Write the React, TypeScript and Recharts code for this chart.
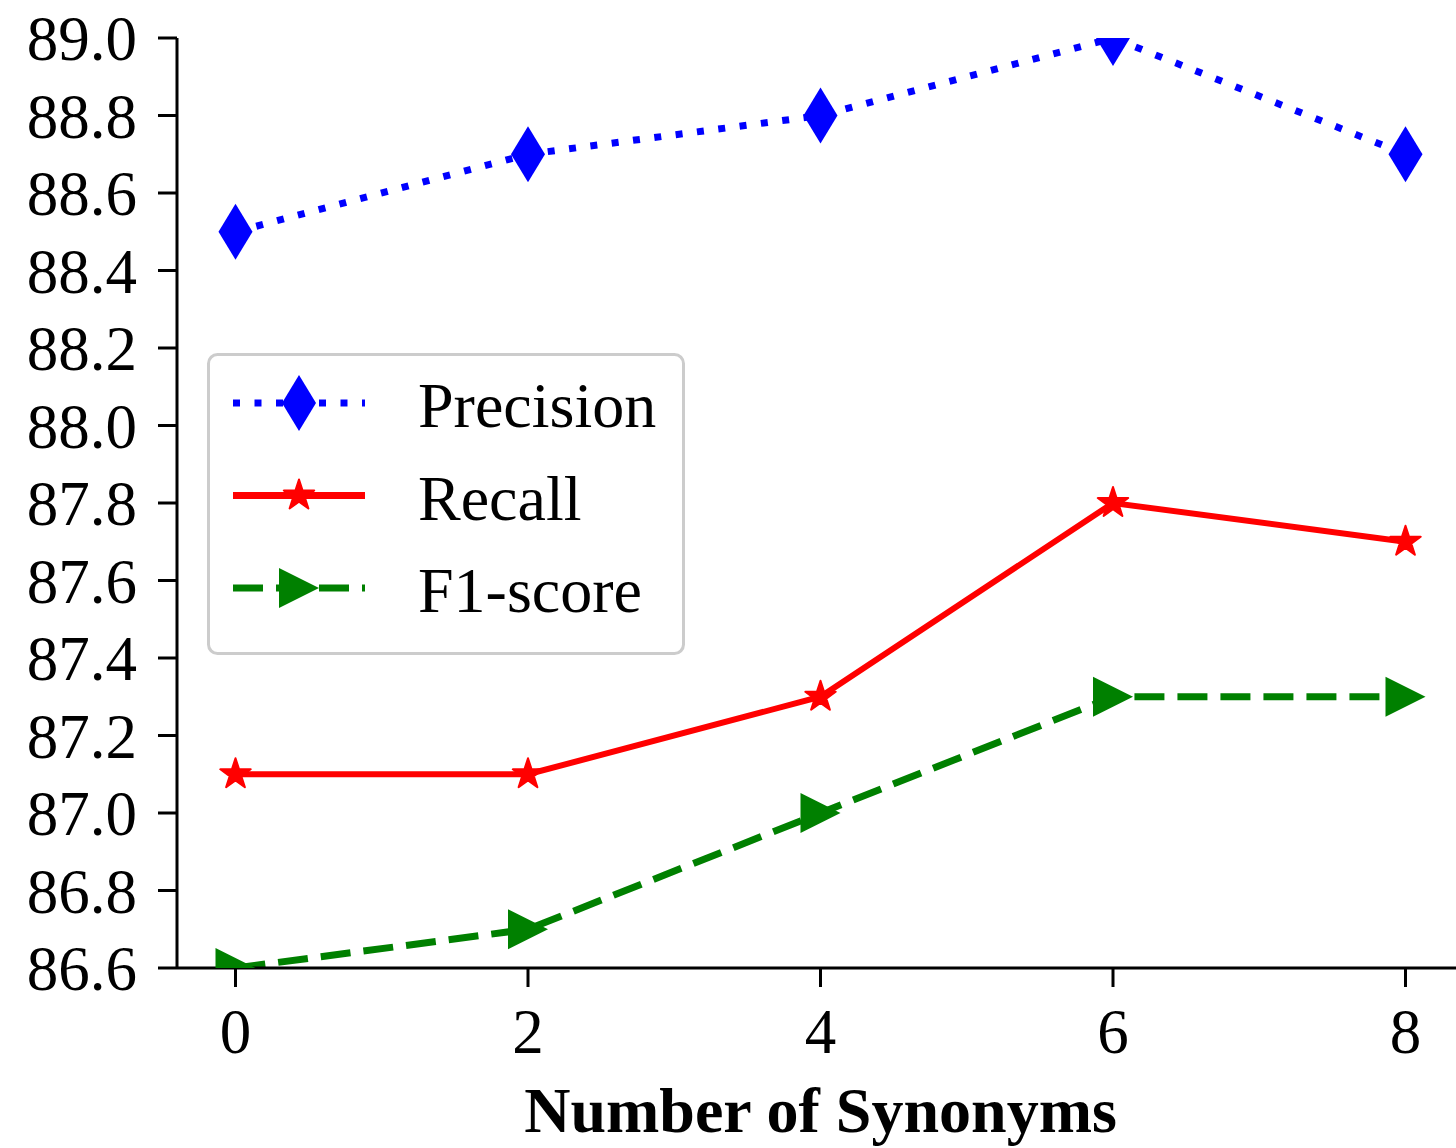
import React from 'react';
import { LineChart, Line, XAxis, YAxis, Legend, Label } from 'recharts';

// values
const synonyms = [0, 2, 4, 6, 8];
const precision = [88.5, 88.7, 88.8, 89.0, 88.7];
const recall = [87.1, 87.1, 87.3, 87.8, 87.7];
const f1Score = [86.6, 86.7, 87.0, 87.3, 87.3];

const xTicks = [0, 2, 4, 6, 8];
const yTicks = [86.6, 86.8, 87.0, 87.2, 87.4, 87.6, 87.8, 88.0, 88.2, 88.4, 88.6, 88.8, 89.0];
const seriesNames = ['Precision', 'Recall', 'F1-score'];

const data = synonyms.map((n, i) => ({
  n,
  precision: precision[i],
  recall: recall[i],
  f1: f1Score[i],
}));

const FONT = '"Liberation Serif", "Times New Roman", Times, serif';
const BLUE = '#0000ff';
const RED = '#ff0000';
const GREEN = '#008000';

interface MarkerProps {
  cx: number;
  cy: number;
  fill: string;
}

function Diamond({ cx, cy, fill }: MarkerProps) {
  return <path d={`M${cx},${cy - 28} L${cx + 17},${cy} L${cx},${cy + 28} L${cx - 17},${cy} Z`} fill={fill} />;
}

function Star({ cx, cy, fill }: MarkerProps) {
  const pts: string[] = [];
  for (let k = 0; k < 10; k++) {
    const r = k % 2 === 0 ? 16 : 6.1;
    const a = -Math.PI / 2 + (k * Math.PI) / 5;
    pts.push(`${cx + r * Math.cos(a)},${cy + r * Math.sin(a)}`);
  }
  return <polygon points={pts.join(' ')} fill={fill} stroke={fill} strokeWidth={2} strokeLinejoin="round" />;
}

function TriangleRight({ cx, cy, fill }: MarkerProps) {
  return <path d={`M${cx + 20},${cy} L${cx - 20},${cy - 20} L${cx - 20},${cy + 20} Z`} fill={fill} />;
}

const legendItems = [
  { name: seriesNames[0], color: BLUE, dash: '7 14.5', Marker: Diamond },
  { name: seriesNames[1], color: RED, dash: undefined, Marker: Star },
  { name: seriesNames[2], color: GREEN, dash: '30 13', Marker: TriangleRight },
];

function LegendBox() {
  return (
    <svg width={478} height={302} style={{ display: 'block' }}>
      <rect x={1.5} y={1.5} width={475} height={299} rx={9} fill="#ffffff" fillOpacity={0.8} stroke="#cccccc" strokeWidth={3} />
      {legendItems.map((it, i) => {
        const y = 50 + i * 92.5;
        const M = it.Marker;
        return (
          <g key={it.name}>
            <line x1={26} y1={y} x2={158} y2={y} stroke={it.color} strokeWidth={7} strokeDasharray={it.dash} />
            <M cx={92} cy={y} fill={it.color} />
            <text x={211} y={y + 24} fontSize={64} fontFamily={FONT} fill="#000">
              {it.name}
            </text>
          </g>
        );
      })}
    </svg>
  );
}

const axisStroke = { stroke: '#000', strokeWidth: 3 };
const tickStyle = { fill: '#000', fontSize: 63, fontFamily: FONT };

export default function App() {
  return (
    <div style={{ position: 'absolute', left: 0, top: 0, width: 1456, height: 1148, overflow: 'hidden', background: '#fff' }}>
      <LineChart width={1464} height={1148} data={data} margin={{ top: 38, right: 0, bottom: 0, left: 0 }}>
        <XAxis
          dataKey="n"
          type="number"
          domain={[-0.4, 8.4]}
          ticks={xTicks}
          allowDataOverflow
          height={180}
          tickSize={19}
          tickMargin={21}
          tick={tickStyle}
          tickLine={axisStroke}
          axisLine={axisStroke}
        >
          <Label
            value="Number of Synonyms"
            position="insideBottom"
            offset={16}
            fontSize={64}
            fontWeight="bold"
            fontFamily={FONT}
            fill="#000"
          />
        </XAxis>
        <XAxis
          xAxisId="top"
          orientation="top"
          type="number"
          domain={[-0.4, 8.4]}
          height={0}
          tick={false}
          tickLine={false}
          axisLine={axisStroke}
        />
        <YAxis
          type="number"
          domain={[86.6, 89.0]}
          ticks={yTicks}
          allowDataOverflow
          interval={0}
          width={177}
          tickSize={19}
          tickMargin={21}
          tickFormatter={(v: number) => v.toFixed(1)}
          tick={tickStyle}
          tickLine={axisStroke}
          axisLine={axisStroke}
        />
        <Legend
          verticalAlign="middle"
          align="center"
          layout="vertical"
          width={478}
          height={302}
          wrapperStyle={{ left: 207, top: 353, width: 478, height: 302 }}
          content={() => <LegendBox />}
        />
        <Line
          dataKey="precision"
          name={seriesNames[0]}
          stroke={BLUE}
          strokeWidth={7}
          strokeDasharray="7 14.5"
          isAnimationActive={false}
          dot={(p: any) => <Diamond key={`p-${p.index}`} cx={p.cx} cy={p.cy} fill={BLUE} />}
          activeDot={false}
        />
        <Line
          dataKey="recall"
          name={seriesNames[1]}
          stroke={RED}
          strokeWidth={6}
          isAnimationActive={false}
          dot={(p: any) => <Star key={`r-${p.index}`} cx={p.cx} cy={p.cy} fill={RED} />}
          activeDot={false}
        />
        <Line
          dataKey="f1"
          name={seriesNames[2]}
          stroke={GREEN}
          strokeWidth={7}
          strokeDasharray="30 13"
          isAnimationActive={false}
          dot={(p: any) => <TriangleRight key={`f-${p.index}`} cx={p.cx} cy={p.cy} fill={GREEN} />}
          activeDot={false}
        />
      </LineChart>
    </div>
  );
}
